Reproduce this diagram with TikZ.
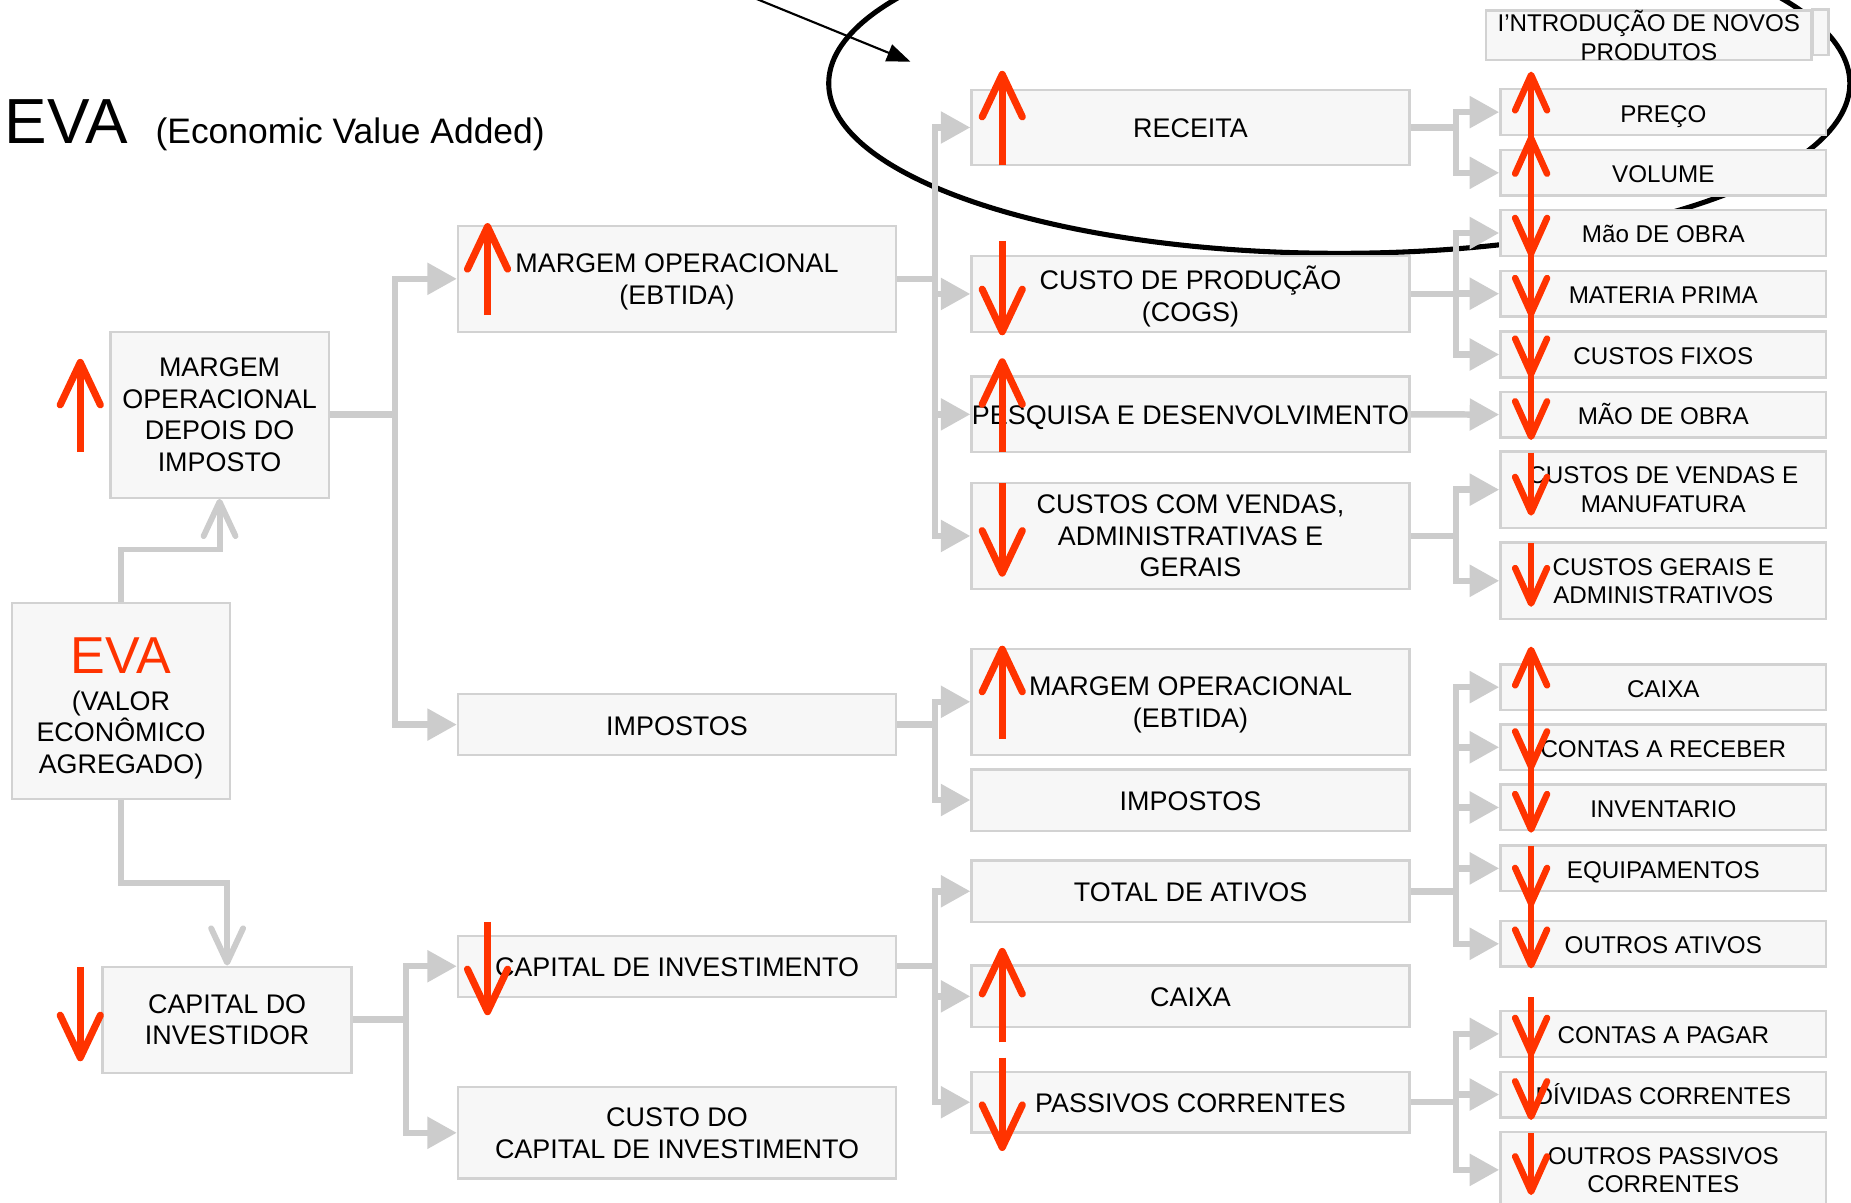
\documentclass[tikz,border=0pt]{standalone}
\usepackage{fontspec}
\setmainfont{Liberation Sans}
\usetikzlibrary{arrows.meta}
\definecolor{boxfill}{HTML}{F7F7F7}
\definecolor{boxline}{HTML}{D2D2D2}
\definecolor{conngray}{HTML}{CCCCCC}
\definecolor{evared}{HTML}{FF3300}
\pgfdeclarelayer{bg}
\pgfsetlayers{bg,main}

\begin{document}
\begin{tikzpicture}[x=1pt,y=-1pt,
  box/.style={draw=boxline, fill=boxfill, line width=2pt, inner sep=0pt, align=center,
    font=\fontsize{22.8}{26.8}\selectfont},
  widebox/.style={box, minimum width=371pt},
  smallbox/.style={box, minimum width=276pt, minimum height=38.7pt,
    font=\fontsize{20.5}{24}\selectfont},
  % single-line labels: centre the capitals in the box
  wideline/.style={widebox, text height=17.8pt, text depth=0pt},
  smallline/.style={smallbox, text height=16.7pt, text depth=0pt},
  % multi-line labels: ignore the depth of the last line
  stack/.style={text depth=0pt},
  conn/.style={draw=conngray, line width=5.5pt, -{Triangle[length=25pt,width=26pt]}},
  openconn/.style={draw=conngray, line width=5pt, -{Straight Barb[length=29pt,width=27pt,round]}},
  bigind/.style={draw=evared, line width=6pt, -{Straight Barb[length=36pt,width=34pt,round]}},
  smallind/.style={draw=evared, line width=5.5pt, -{Straight Barb[length=30pt,width=27pt,round]}},
]
\useasboundingbox (0,0) rectangle (1568,1019);

% ---------- title ----------
\node[anchor=base west, inner sep=0pt, font=\fontsize{54}{54}\selectfont] (title) at (4,121.4) {EVA};
\node[anchor=base west, inner sep=0pt, font=\fontsize{30}{30}\selectfont] (subtitle) at (131.6,121.4) {(Economic Value Added)};

% ---------- first level ----------
\node[box, stack, minimum width=185pt, minimum height=140.6pt] (mdi) at (186,351.3)
  {MARGEM\\OPERACIONAL\\DEPOIS DO\\IMPOSTO};
\node[box, minimum width=185pt, minimum height=166pt] (eva) at (102.5,594) {};
\node[align=center, inner sep=0pt, stack, font=\fontsize{22.8}{26.8}\selectfont] (evatext) at (102.5,598)
  {{\fontsize{44}{44}\selectfont\color{evared}EVA}\\[4pt](VALOR\\ECONÔMICO\\AGREGADO)};
\node[box, stack, minimum width=211pt, minimum height=89.8pt] (cdi) at (192.4,863.8)
  {CAPITAL DO\\INVESTIDOR};

% ---------- second level ----------
\node[widebox, stack, minimum height=89.6pt] (mo2) at (573.5,236.2) {MARGEM OPERACIONAL\\(EBTIDA)};
\node[wideline, minimum height=51.6pt] (imp2) at (573.5,613.8) {IMPOSTOS};
\node[wideline, minimum height=51.7pt] (cinv) at (573.5,818.5) {CAPITAL DE INVESTIMENTO};
\node[widebox, stack, minimum height=77.2pt] (ccinv) at (573.5,959.6) {CUSTO DO\\CAPITAL DE INVESTIMENTO};

% ---------- third level ----------
\node[wideline, minimum height=64pt] (rec) at (1008.5,108) {RECEITA};
\node[widebox, stack, minimum height=64pt] (cogs) at (1008.5,249) {CUSTO DE PRODUÇÃO\\(COGS)};
\node[wideline, minimum height=64pt] (pd) at (1008.5,351) {\makebox[0pt]{PESQUISA E DESENVOLVIMENTO}};
\node[widebox, stack, minimum height=90pt] (sga) at (1008.5,454) {CUSTOS COM VENDAS,\\ADMINISTRATIVAS E\\GERAIS};
\node[widebox, stack, minimum height=90pt] (mo3) at (1008.5,594.5) {MARGEM OPERACIONAL\\(EBTIDA)};
\node[wideline, minimum height=52pt] (imp3) at (1008.5,677.7) {IMPOSTOS};
\node[wideline, minimum height=52pt] (ta) at (1008.5,755) {TOTAL DE ATIVOS};
\node[wideline, minimum height=52pt] (cx3) at (1008.5,844) {CAIXA};
\node[wideline, minimum height=51.5pt] (pc) at (1008.5,933.7) {PASSIVOS CORRENTES};

% ---------- fourth level ----------
\node[smallbox, stack, minimum width=275.5pt] (intro) at (1396.75,30) {I’NTRODUÇÃO DE NOVOS\\PRODUTOS};
\draw[draw=boxline, fill=boxfill, line width=2pt] (intro.north east) rectangle ++(13.5,38.7);
\node[smallline] (preco) at (1409,95) {PREÇO};
\node[smallline] (vol) at (1409,146.4) {VOLUME};
\node[smallline] (mdo1) at (1409,197.4) {Mão DE OBRA};
\node[smallline] (mp) at (1409,248.8) {MATERIA PRIMA};
\node[smallline] (cf) at (1409,300.3) {CUSTOS FIXOS};
\node[smallline] (mdo2) at (1409,351.2) {MÃO DE OBRA};
\node[smallbox, stack, minimum height=64.4pt] (cvm) at (1409,414.8) {CUSTOS DE VENDAS E\\MANUFATURA};
\node[smallbox, stack, minimum height=64.6pt] (cga) at (1409,492) {CUSTOS GERAIS E\\ADMINISTRATIVOS};
\node[smallline] (cx4) at (1409,582.1) {CAIXA};
\node[smallline] (cr) at (1409,633) {CONTAS A RECEBER};
\node[smallline] (inv) at (1409,684) {INVENTARIO};
\node[smallline] (eq) at (1409,735.6) {EQUIPAMENTOS};
\node[smallline] (oa) at (1409,799.5) {OUTROS ATIVOS};
\node[smallline] (cp) at (1409,875.8) {CONTAS A PAGAR};
\node[smallline] (dc) at (1409,927.2) {DÍVIDAS CORRENTES};
\node[smallbox, stack, minimum height=64.6pt] (opc) at (1409,991) {OUTROS PASSIVOS\\CORRENTES};

\begin{pgfonlayer}{bg}
  % highlight ellipse and pointer
  \draw[line width=4.3pt] (1134.5,70.6) ellipse [x radius=432.5pt, y radius=144pt];
  \coordinate (ptrstart) at (635.7,-3);
  \coordinate (ptrend) at (771.3,52.3);
  \draw[line width=1.8pt, -{Triangle[length=20pt,width=15pt]}] (ptrstart) -- (ptrend);

  % tree connectors
  \draw[openconn] (eva.north) -- ++(0,-44.5) -| (mdi.south);
  \draw[openconn] (eva.south) -- ++(0,70) -| (cdi.north);
  \foreach \t in {mo2,imp2} \draw[conn] (mdi.east) -- ++(55,0) |- (\t.west);
  \foreach \t in {cinv,ccinv} \draw[conn] (cdi.east) -- ++(45,0) |- (\t.west);
  \foreach \t in {rec,cogs,pd,sga} \draw[conn] (mo2.east) -- ++(32,0) |- (\t.west);
  \foreach \t in {mo3,imp3} \draw[conn] (imp2.east) -- ++(32,0) |- (\t.west);
  \foreach \t in {ta,cx3,pc} \draw[conn] (cinv.east) -- ++(32,0) |- (\t.west);
  \foreach \t in {preco,vol} \draw[conn] (rec.east) -- ++(38.5,0) |- (\t.west);
  \foreach \t in {mdo1,mp,cf} \draw[conn] (cogs.east) -- ++(38.5,0) |- (\t.west);
  \draw[conn] (pd.east) -- (mdo2.west);
  \foreach \t in {cvm,cga} \draw[conn] (sga.east) -- ++(38.5,0) |- (\t.west);
  \foreach \t in {cx4,cr,inv,eq,oa} \draw[conn] (ta.east) -- ++(38.5,0) |- (\t.west);
  \foreach \t in {cp,dc,opc} \draw[conn] (pc.east) -- ++(38.5,0) |- (\t.west);
\end{pgfonlayer}

% ---------- up / down indicators ----------
\foreach \xa/\ya/\yb in {68/383/304, 413/267/189, 68/819/899, 413/781/860,
    849/140/60, 849/204/284, 849/383/303.5, 849/409/488.5,
    849/626/547, 849/883/803, 849/896/975}
  \draw[bigind] (\xa,\ya) -- (\xa,\yb);
\foreach \ya/\yb in {141/60.7, 194/114.4, 137/217.4, 188/268.3, 240/319.6, 293/372.7,
    383.5/436.8, 460.3/514, 628/547.8, 572/652.3, 625/705.4,
    716.4/768, 740/820.3, 844.8/895, 869/948.7, 960/1012.3}
  \draw[smallind] (1297,\ya) -- (1297,\yb);
\end{tikzpicture}
\end{document}
